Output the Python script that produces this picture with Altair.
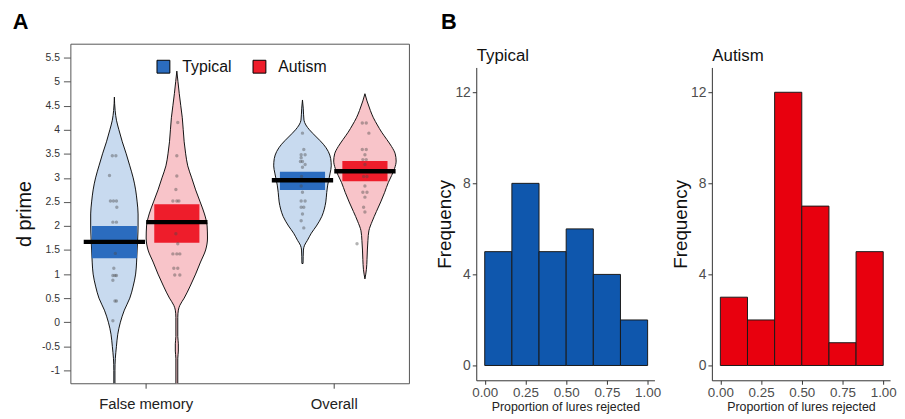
import altair as alt
import pandas as pd

# ---------------- data ----------------
categories = ["False memory", "Overall"]
groups = ["Typical", "Autism"]

# violin outlines: d prime level and half-width (fraction of category spacing)
vio_typ_fm_y = [4.68, 4.4, 4.2, 4.0, 3.75, 3.5, 3.25, 3.0, 2.75, 2.5, 2.25, 2.0, 1.75, 1.5, 1.25, 1.0,
                0.75, 0.5, 0.25, 0.0, -0.25, -0.5, -0.75, -1.0, -1.3]
vio_typ_fm_w = [0, 0.004, 0.011, 0.024, 0.042, 0.063, 0.082, 0.1, 0.113, 0.121, 0.126, 0.126, 0.124, 0.121,
                0.118, 0.113, 0.1, 0.082, 0.053, 0.032, 0.018, 0.011, 0.005, 0.003, 0.003]
vio_aut_fm_y = [5.22, 5.0, 4.75, 4.5, 4.25, 4.0, 3.75, 3.5, 3.25, 3.0, 2.75, 2.5, 2.25, 2.0, 1.75, 1.5,
                1.25, 1.0, 0.75, 0.5, 0.35, 0.25, 0.1, -0.3, -0.45, -0.6, -0.75, -1.3]
vio_aut_fm_w = [0, 0.006, 0.013, 0.021, 0.029, 0.034, 0.039, 0.047, 0.058, 0.079, 0.1, 0.124, 0.147, 0.161,
                0.163, 0.153, 0.126, 0.1, 0.071, 0.039, 0.016, 0.008, 0.005, 0.005, 0.008, 0.008, 0.005, 0.005]
vio_typ_ov_y = [4.62, 4.45, 4.2, 4.1, 4.0, 3.85, 3.7, 3.55, 3.4, 3.25, 3.1, 3.0, 2.85, 2.7, 2.5, 2.35,
                2.2, 2.0, 1.85, 1.7, 1.6, 1.5, 1.22]
vio_typ_ov_w = [0, 0.004, 0.008, 0.018, 0.037, 0.074, 0.111, 0.137, 0.15, 0.153, 0.147, 0.142, 0.134,
                0.129, 0.124, 0.116, 0.103, 0.074, 0.047, 0.026, 0.011, 0.005, 0.003]
vio_aut_ov_y = [4.75, 4.6, 4.4, 4.25, 4.1, 3.95, 3.8, 3.65, 3.5, 3.35, 3.2, 3.05, 2.9, 2.7, 2.5, 2.3,
                2.1, 1.9, 1.7, 1.5, 1.3, 1.1, 0.9]
vio_aut_ov_w = [0, 0.011, 0.029, 0.045, 0.066, 0.089, 0.116, 0.142, 0.161, 0.166, 0.158, 0.142, 0.124,
                0.105, 0.084, 0.061, 0.039, 0.021, 0.016, 0.013, 0.011, 0.008, 0]

# individual participants (d prime) and their horizontal jitter
pts_typ_fm = [3.46, 3.46, 3.05, 2.52, 2.52, 2.52, 2.39, 2.08, 2.08, 1.43, 1.12, 0.97, 0.97, 0.97, 0.87,
              0.44, 0.44, 0.03]
jit_typ_fm = [-0.011, 0.008, -0.026, -0.021, -0.005, 0.011, 0.013, -0.008, 0.011, 0.005, -0.003, -0.008,
              0.003, 0.011, -0.008, 0.003, 0.011, -0.008]
pts_aut_fm = [4.15, 3.46, 3.04, 2.76, 2.52, 2.52, 2.52, 1.84, 1.63, 1.42, 1.42, 1.42, 1.12, 1.12, 0.98, 0.98]
jit_aut_fm = [0.005, 0, 0, -0.005, -0.021, 0, 0.011, -0.005, 0.005, -0.021, 0, 0.016, -0.016, 0.005,
              -0.011, 0.016]
pts_typ_ov = [3.93, 3.59, 3.48, 3.48, 3.42, 3.34, 3.34, 3.28, 3.22, 3.03, 2.83, 2.70, 2.52, 2.52, 2.39,
              2.39, 2.25, 2.11, 1.96]
jit_typ_ov = [0, 0.007, -0.007, 0.014, -0.007, -0.011, 0, 0.014, 0, -0.005, -0.007, 0, -0.007, 0.014,
              -0.007, 0.007, 0, -0.007, 0.007]
pts_aut_ov = [4.14, 4.14, 3.93, 3.59, 3.59, 3.48, 3.38, 3.38, 3.28, 3.03, 3.03, 2.83, 2.70, 2.70, 2.60,
              2.39, 2.29, 1.63]
jit_aut_ov = [-0.014, 0.007, 0.021, -0.014, 0.007, 0, -0.011, 0.007, 0, -0.007, 0.011, 0, -0.011, 0.011,
              0, -0.007, 0, -0.042]

# means and HDI bands  (order: False memory, Overall)
mean_typ = [1.67, 2.95]
mean_aut = [2.08, 3.14]
hdi_lo_typ = [1.33, 2.75]
hdi_hi_typ = [2.00, 3.13]
hdi_lo_aut = [1.65, 2.93]
hdi_hi_aut = [2.45, 3.35]

# y-axis tick labels of panel A
dprime_ticks = [-1, -0.5, 0, 0.5, 1, 1.5, 2, 2.5, 3, 3.5, 4, 4.5, 5, 5.5]
dprime_labels = ["-1", "-0.5", "0", "0.5", "1", "1.5", "2", "2.5", "3", "3.5", "4", "4.5", "5", "5.5"]

# histograms: proportion of lures rejected
bin_edges = [0.0, 0.1667, 0.3333, 0.5, 0.6667, 0.8333, 1.0]
hist_typ = [5, 8, 5, 6, 4, 2]
hist_aut = [3, 2, 12, 7, 1, 5]

# ---------------- styling constants ----------------
FONT = "Liberation Sans"
GROUP_OFFSET = {"Typical": -0.166, "Autism": 0.166}
LIGHT = {"Typical": "#c8daef", "Autism": "#f8c4c9"}
DARK = ["#2b6cbf", "#ee1d2b"]
HIST_COL = {"Typical": "#0f57ad", "Autism": "#e8000e"}
MEAN_HALF = 0.163
HDI_HALF = 0.12
A_W, A_H = 342, 343
H_W, H_H = 180, 340      # histogram view (includes a header strip at the top)
H_HEAD = 24              # header strip holding the group name
X_DOM = [0.6, 2.4]
NO_FRAME = alt.ViewBackground(stroke="transparent", strokeWidth=0)

# ---------------- tables ----------------
vio_src = {
    ("Typical", 0): (vio_typ_fm_y, vio_typ_fm_w),
    ("Autism", 0): (vio_aut_fm_y, vio_aut_fm_w),
    ("Typical", 1): (vio_typ_ov_y, vio_typ_ov_w),
    ("Autism", 1): (vio_aut_ov_y, vio_aut_ov_w),
}
rows = []
for (g, ci), (ys, ws) in vio_src.items():
    c = ci + 1 + GROUP_OFFSET[g]
    key = g + "|" + categories[ci]
    for y, w in zip(ys, ws):
        rows.append({"key": key, "fillcol": LIGHT[g], "v": y, "lo": c - w, "hi": c + w})
vio_df = pd.DataFrame(rows)

pt_src = {
    ("Typical", 0): (pts_typ_fm, jit_typ_fm),
    ("Autism", 0): (pts_aut_fm, jit_aut_fm),
    ("Typical", 1): (pts_typ_ov, jit_typ_ov),
    ("Autism", 1): (pts_aut_ov, jit_aut_ov),
}
rows = []
for (g, ci), (vs, js) in pt_src.items():
    c = ci + 1 + GROUP_OFFSET[g]
    for v, j in zip(vs, js):
        rows.append({"group": g, "v": v, "x": c + j})
pts_df = pd.DataFrame(rows)

rows = []
for g, means, los, his in [("Typical", mean_typ, hdi_lo_typ, hdi_hi_typ),
                           ("Autism", mean_aut, hdi_lo_aut, hdi_hi_aut)]:
    for ci in range(2):
        c = ci + 1 + GROUP_OFFSET[g]
        rows.append({"group": g, "mean": means[ci], "lo": los[ci], "hi": his[ci],
                     "m0": c - MEAN_HALF, "m1": c + MEAN_HALF,
                     "h0": c - HDI_HALF, "h1": c + HDI_HALF})
stat_df = pd.DataFrame(rows)

# ---------------- panel A ----------------
xscale = alt.Scale(domain=X_DOM, nice=False, zero=False)
yscale = alt.Scale(domain=[-1.27, 5.79], nice=False, zero=False)
x_label_expr = "datum.value == 1 ? '%s' : '%s'" % (categories[0], categories[1])
y_label_expr = " : ".join("datum.value == %s ? '%s'" % (v, s)
                          for v, s in zip(dprime_ticks, dprime_labels)) + " : ''"

xaxis = alt.Axis(values=[1, 2], labelExpr=x_label_expr, title=None, grid=False, domain=False,
                 tickSize=5, tickColor="#444", labelFontSize=15, labelColor="#222", labelPadding=8,
                 labelFont=FONT)
yaxis = alt.Axis(values=dprime_ticks, labelExpr=y_label_expr, labelOverlap=False,
                 tickCount=len(dprime_ticks),
                 title="d prime", titleFontSize=20,
                 titleFontWeight="normal", titleColor="#111", titlePadding=7, grid=False, domain=False,
                 tickSize=7, tickColor="#555", labelFontSize=10.5, labelColor="#333", labelPadding=4,
                 labelFont=FONT, titleFont=FONT)

def X(field):
    return alt.X(field, scale=xscale, axis=xaxis)

def Y(field):
    return alt.Y(field, scale=yscale, axis=yaxis)

violins = alt.Chart(vio_df).mark_area(orient="horizontal", stroke="#111", strokeWidth=1,
                                      clip=True, interpolate="monotone").encode(
    y=Y("v:Q"),
    x=X("lo:Q"),
    x2="hi:Q",
    color=alt.Color("fillcol:N", scale=None, legend=None),
    detail="key:N",
)

hdi = alt.Chart(stat_df).mark_rect().encode(
    x=X("h0:Q"), x2="h1:Q", y=Y("lo:Q"), y2="hi:Q",
    color=alt.Color("group:N", scale=alt.Scale(domain=groups, range=DARK),
                    legend=alt.Legend(title=None, orient="none", legendX=86, legendY=15,
                                      direction="horizontal", symbolType="square", symbolSize=169,
                                      symbolStrokeColor="black", symbolStrokeWidth=1,
                                      labelFontSize=16, labelFont=FONT, labelColor="#111",
                                      labelOffset=11, columnPadding=19)),
)

points = alt.Chart(pts_df).mark_circle(size=12, color="#4a4a4a", opacity=0.42, clip=True).encode(
    x=X("x:Q"), y=Y("v:Q"),
)

means = alt.Chart(stat_df).mark_rule(strokeWidth=4.5, color="black").encode(
    x=X("m0:Q"), x2="m1:Q", y=Y("mean:Q"),
)

panelA = alt.layer(violins, hdi, points, means).resolve_scale(color="independent").properties(
    width=A_W, height=A_H,
    view=alt.ViewBackground(stroke="#555", strokeWidth=1),
    title=alt.Title("A", anchor="start", frame="bounds", fontSize=22, fontWeight="bold",
                    color="black", font=FONT, dx=-2, offset=10),
)

# ---------------- panel B ----------------
def histogram(g, counts):
    df = pd.DataFrame({"x0": bin_edges[:-1], "x1": bin_edges[1:], "n": counts})
    xs = alt.Scale(domain=[-0.052, 1.042], nice=False, zero=False)
    bars = alt.Chart(df).mark_bar(color=HIST_COL[g], stroke="#1a1a1a", strokeWidth=1).encode(
        x=alt.X("x0:Q", scale=xs,
                axis=alt.Axis(values=[0, 0.25, 0.5, 0.75, 1], format=".2f",
                              title="Proportion of lures rejected", titleFontSize=12.5,
                              titleFontWeight="normal", titleColor="#222", titlePadding=2,
                              labelFontSize=13.5, labelColor="#4d4d4d", labelPadding=1,
                              tickSize=4, tickColor="#333", domainColor="#333", grid=False,
                              labelFont=FONT, titleFont=FONT)),
        x2="x1:Q",
        y=alt.Y("n:Q", scale=alt.Scale(domain=[-0.65, 13.09], range=[H_H, H_HEAD],
                                       nice=False, zero=False),
                axis=alt.Axis(values=[0, 4, 8, 12], title="Frequency", titleFontSize=19,
                              titleFontWeight="normal", titleColor="#111", titlePadding=0,
                              labelFontSize=14, labelColor="#4d4d4d", labelPadding=2,
                              tickSize=4, tickColor="#333", domainColor="#333", grid=False,
                              labelFont=FONT, titleFont=FONT)),
        y2=alt.datum(0),
    )
    # group name shown in the header strip as a top-axis title
    header = alt.Chart(df).mark_rule(opacity=0).encode(
        x=alt.X("x0:Q", scale=xs,
                axis=alt.Axis(orient="top", title=g, labels=False, ticks=False, domain=False,
                              grid=False, titleAnchor="start", titleAlign="left",
                              titleBaseline="alphabetic", titleY=17,
                              titleFontSize=17, titleFontWeight="normal", titleColor="#111",
                              titleFont=FONT)),
    )
    return alt.layer(bars, header).resolve_axis(x="independent").properties(
        width=H_W, height=H_H, view=NO_FRAME)

panelB = alt.hconcat(histogram("Typical", hist_typ), histogram("Autism", hist_aut),
                     spacing=10).properties(
    title=alt.Title("B", anchor="start", frame="bounds", fontSize=22, fontWeight="bold",
                    color="black", font=FONT, dx=5, offset=10),
)

chart = alt.hconcat(panelA, panelB, spacing=26).properties(
    padding={"left": 4, "top": 0, "right": 0, "bottom": 0},
).configure(font=FONT).configure_view(stroke="transparent", strokeWidth=0).configure_axis(
    labelOverlap=False
)

chart.save("out.html", embed_options={"renderer": "svg", "actions": False})
